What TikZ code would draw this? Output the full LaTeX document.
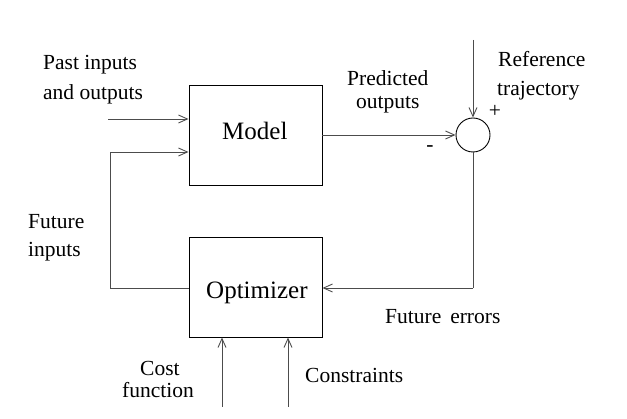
\documentclass[tikz,border=0pt]{standalone}
\usepackage{fontspec}
\setmainfont{Liberation Serif}
\usetikzlibrary{arrows.meta}
\begin{document}
\begin{tikzpicture}[x=1pt,y=-1pt,
  blk/.style={draw=black, line width=0.9pt, minimum width=133pt, minimum height=100pt, inner sep=0pt},
  blklbl/.style={font=\fontsize{25}{28}\selectfont, inner sep=0pt, anchor=base west},
  sumnode/.style={draw=black, line width=0.9pt, circle, minimum size=34pt, inner sep=0pt},
  conn/.style={draw=black!70, line width=0.9pt, -{Straight Barb[length=9pt,width=8pt]}},
  wire/.style={draw=black!70, line width=0.9pt},
  lbl/.style={font=\fontsize{21.5}{24}\selectfont, inner sep=0pt, anchor=base west}]
\useasboundingbox (0,0) rectangle (627,419);
\node[blk] (model) at (255.5,135) {};
\node[blk] (opt) at (255.5,287) {};
\node[blklbl] (modeltxt) at (222,140) {Model};
\node[blklbl] (opttxt) at (206,299) {Optimizer};
\node[sumnode] (sum) at (473,135) {};
\coordinate (pin) at (108,119);
\coordinate (fbL) at (110,288);
\coordinate (fbT) at (110,152);
\coordinate (refin) at (473,40);
\coordinate (errC) at (473,288);
\coordinate (cf) at (222,407);
\coordinate (cs) at (288,407);
\draw[conn] (pin) -- (pin -| model.west);
\draw[wire] (opt.west |- fbL) -- (fbL) -- (fbT);
\draw[conn] (fbT) -- (fbT -| model.west);
\draw[conn] (model.east) -- (sum.west);
\draw[conn] (refin) -- (sum.north);
\draw[wire] (sum.south) -- (errC);
\draw[conn] (errC) -- (errC -| opt.east);
\draw[conn] (cf) -- (cf |- opt.south);
\draw[conn] (cs) -- (cs |- opt.south);
\node[lbl] (l1) at (43,70) {Past inputs};
\node[lbl] (l2) at (43,100) {and outputs};
\node[lbl] (l3) at (347,86) {Predicted};
\node[lbl] (l4) at (356,109) {outputs};
\node[lbl] (l5) at (498,67) {Reference};
\node[lbl] (l6) at (497,96) {trajectory};
\node[lbl, anchor=center] (plus) at (495,111) {+};
\node[lbl, anchor=center] (minus) at (430,149) {-};
\node[lbl] (l7) at (28,229) {Future};
\node[lbl] (l8) at (28,257) {inputs};
\node[lbl] (l9) at (385,324) {Future\, errors};
\node[lbl] (l10) at (140,376) {Cost};
\node[lbl] (l11) at (122,398) {function};
\node[lbl] (l12) at (305,383) {Constraints};
\end{tikzpicture}
\end{document}
